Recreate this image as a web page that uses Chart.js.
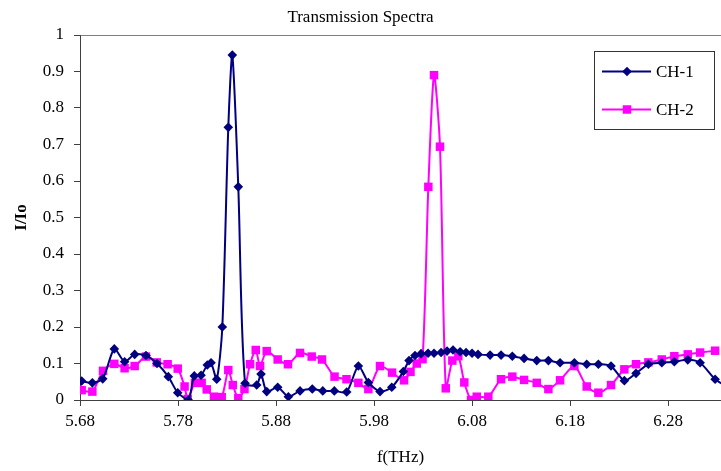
<!DOCTYPE html>
<html>
<head>
<meta charset="utf-8">
<script src="https://cdn.jsdelivr.net/npm/chart.js@4/dist/chart.umd.min.js"></script>
<style>
  html, body { margin: 0; padding: 0; background: #fff; }
  #wrap { width: 721px; height: 471px; }
</style>
</head>
<body>
<div id="wrap"><canvas id="chart" width="721" height="471"></canvas></div>
<script>
// values
const freqCH1 = [5.6817, 5.6926, 5.7032, 5.7150, 5.7255, 5.7358, 5.7473, 5.7586, 5.7701, 5.7797,
  5.7905, 5.7966, 5.8035, 5.8099, 5.8137, 5.8195, 5.8252, 5.8313, 5.8354, 5.8415,
  5.8484, 5.8603, 5.8647, 5.8705, 5.8817, 5.8926, 5.9045, 5.9170, 5.9277, 5.9395,
  5.9521, 5.9640, 5.9742, 5.9861, 5.9981, 6.0099, 6.0157, 6.0218, 6.0280, 6.0351,
  6.0412, 6.0484, 6.0545, 6.0606, 6.0678, 6.0739, 6.0800, 6.0861, 6.0984, 6.1096,
  6.1211, 6.1331, 6.1460, 6.1579, 6.1698, 6.1844, 6.1970, 6.2089, 6.2218, 6.2354,
  6.2473, 6.2599, 6.2736, 6.2864, 6.3001, 6.3127, 6.3280, 6.3412];
const valCH1 = [0.052, 0.047, 0.058, 0.140, 0.105, 0.125, 0.122, 0.100, 0.064, 0.020,
  0.000, 0.066, 0.068, 0.096, 0.102, 0.057, 0.200, 0.747, 0.945, 0.584,
  0.046, 0.041, 0.071, 0.023, 0.035, 0.009, 0.025, 0.030, 0.025, 0.025,
  0.022, 0.093, 0.048, 0.023, 0.035, 0.078, 0.108, 0.122, 0.127, 0.128,
  0.128, 0.130, 0.134, 0.137, 0.132, 0.130, 0.128, 0.125, 0.123, 0.123,
  0.120, 0.114, 0.108, 0.108, 0.102, 0.102, 0.098, 0.098, 0.093, 0.053,
  0.073, 0.098, 0.102, 0.105, 0.110, 0.102, 0.057, 0.035];

const freqCH2 = [5.6817, 5.6926, 5.7035, 5.7150, 5.7255, 5.7358, 5.7473, 5.7583, 5.7694, 5.7797,
  5.7867, 5.7899, 5.7973, 5.8041, 5.8093, 5.8167, 5.8246, 5.8313, 5.8359, 5.8415,
  5.8478, 5.8535, 5.8593, 5.8637, 5.8705, 5.8817, 5.8922, 5.9045, 5.9164, 5.9269,
  5.9397, 5.9519, 5.9640, 5.9742, 5.9861, 5.9984, 6.0106, 6.0172, 6.0236, 6.0295,
  6.0354, 6.0412, 6.0473, 6.0532, 6.0599, 6.0660, 6.0721, 6.0790, 6.0848, 6.0966,
  6.1096, 6.1211, 6.1331, 6.1460, 6.1579, 6.1698, 6.1844, 6.1970, 6.2089, 6.2218,
  6.2354, 6.2473, 6.2599, 6.2736, 6.2864, 6.3001, 6.3127, 6.3280];
const valCH2 = [0.027, 0.023, 0.080, 0.099, 0.087, 0.093, 0.119, 0.103, 0.098, 0.086,
  0.037, 0.003, 0.047, 0.047, 0.029, 0.009, 0.008, 0.082, 0.041, 0.005,
  0.030, 0.098, 0.137, 0.093, 0.134, 0.111, 0.098, 0.129, 0.119, 0.111,
  0.064, 0.057, 0.047, 0.030, 0.093, 0.075, 0.054, 0.077, 0.100, 0.112,
  0.584, 0.890, 0.694, 0.032, 0.108, 0.120, 0.048, 0.000, 0.009, 0.009,
  0.057, 0.064, 0.055, 0.047, 0.030, 0.054, 0.093, 0.037, 0.020, 0.041,
  0.084, 0.098, 0.103, 0.111, 0.120, 0.125, 0.130, 0.135];

const xTicks = [5.68, 5.78, 5.88, 5.98, 6.08, 6.18, 6.28];
const seriesNames = ['CH-1', 'CH-2'];

const FONT = 'Liberation Serif, Times New Roman, serif';
const toPoints = (xs, ys) => xs.map((x, i) => ({ x, y: ys[i] }));

// legend box drawn in the top right corner of the plot, like the original
const boxLegend = {
  id: 'boxLegend',
  afterDraw(chart) {
    const ctx = chart.ctx;
    const left = 594.5, top = 51.5, w = 120, h = 78;
    ctx.save();
    ctx.fillStyle = '#fff';
    ctx.fillRect(left, top, w, h);
    ctx.strokeStyle = '#333';
    ctx.lineWidth = 1;
    ctx.strokeRect(left, top, w, h);
    chart.data.datasets.forEach((ds, i) => {
      const y = 71.5 + i * 38;
      ctx.strokeStyle = ds.borderColor;
      ctx.lineWidth = ds.borderWidth;
      ctx.beginPath();
      ctx.moveTo(602, y);
      ctx.lineTo(651, y);
      ctx.stroke();
      ctx.fillStyle = ds.backgroundColor;
      Chart.helpers.drawPoint(ctx, { pointStyle: ds.pointStyle, radius: ds.pointRadius, rotation: 0, borderWidth: 0 }, 627, y);
      ctx.fillStyle = '#000';
      ctx.font = '17px ' + FONT;
      ctx.textBaseline = 'middle';
      ctx.textAlign = 'left';
      ctx.fillText(ds.label, 656, y + 1);
    });
    ctx.restore();
  }
};

new Chart(document.getElementById('chart'), {
  type: 'scatter',
  data: {
    datasets: [
      {
        label: seriesNames[0],
        data: toPoints(freqCH1, valCH1),
        showLine: true,
        borderColor: '#000080',
        backgroundColor: '#000080',
        borderWidth: 2,
        pointStyle: 'rectRot',
        pointRadius: 4.8,
        pointBorderWidth: 0,
        tension: 0.25
      },
      {
        label: seriesNames[1],
        data: toPoints(freqCH2, valCH2),
        showLine: true,
        borderColor: '#FF00FF',
        backgroundColor: '#FF00FF',
        borderWidth: 2,
        pointStyle: 'rect',
        pointRadius: 6,
        pointBorderWidth: 0,
        tension: 0.25
      }
    ]
  },
  options: {
    responsive: false,
    animation: false,
    layout: { padding: 0, autoPadding: false },
    plugins: {
      legend: { display: false },
      tooltip: { enabled: false },
      title: {
        display: true,
        text: 'Transmission Spectra',
        color: '#000',
        font: { family: FONT, size: 17, weight: 'normal' },
        padding: { top: 7, bottom: 7.6 }
      }
    },
    scales: {
      x: {
        type: 'linear',
        min: 5.68,
        max: 6.334,
        afterFit: (s) => { s.height = 71; s.paddingLeft = 0; s.paddingRight = 0; },
        afterBuildTicks: (s) => { s.ticks = xTicks.map(v => ({ value: v })); },
        ticks: {
          color: '#000',
          padding: 5,
          maxRotation: 0,
          font: { family: FONT, size: 17 },
          callback: (v) => Number(v).toFixed(2)
        },
        grid: { drawOnChartArea: false, tickLength: 6, tickColor: '#404040' },
        border: { color: '#404040', width: 1 },
        title: {
          display: true,
          text: 'f(THz)',
          color: '#000',
          font: { family: FONT, size: 17 },
          padding: { top: 0, bottom: 3 }
        }
      },
      y: {
        min: 0,
        max: 1,
        afterFit: (s) => { s.width = 80; },
        ticks: {
          stepSize: 0.1,
          color: '#000',
          padding: 10,
          font: { family: FONT, size: 17 },
          callback: (v) => String(Math.round(v * 10) / 10)
        },
        grid: {
          drawOnChartArea: true,
          color: (c) => (c.tick && Math.abs(c.tick.value - 1) < 1e-6) ? '#808080' : 'rgba(0,0,0,0)',
          tickLength: 6,
          tickColor: '#404040'
        },
        border: { color: '#404040', width: 1 },
        title: {
          display: true,
          text: 'I/Io',
          color: '#000',
          font: { family: FONT, size: 17, weight: 'bold' },
          padding: { top: 11, bottom: 0 }
        }
      }
    }
  },
  plugins: [boxLegend]
});
</script>
</body>
</html>
